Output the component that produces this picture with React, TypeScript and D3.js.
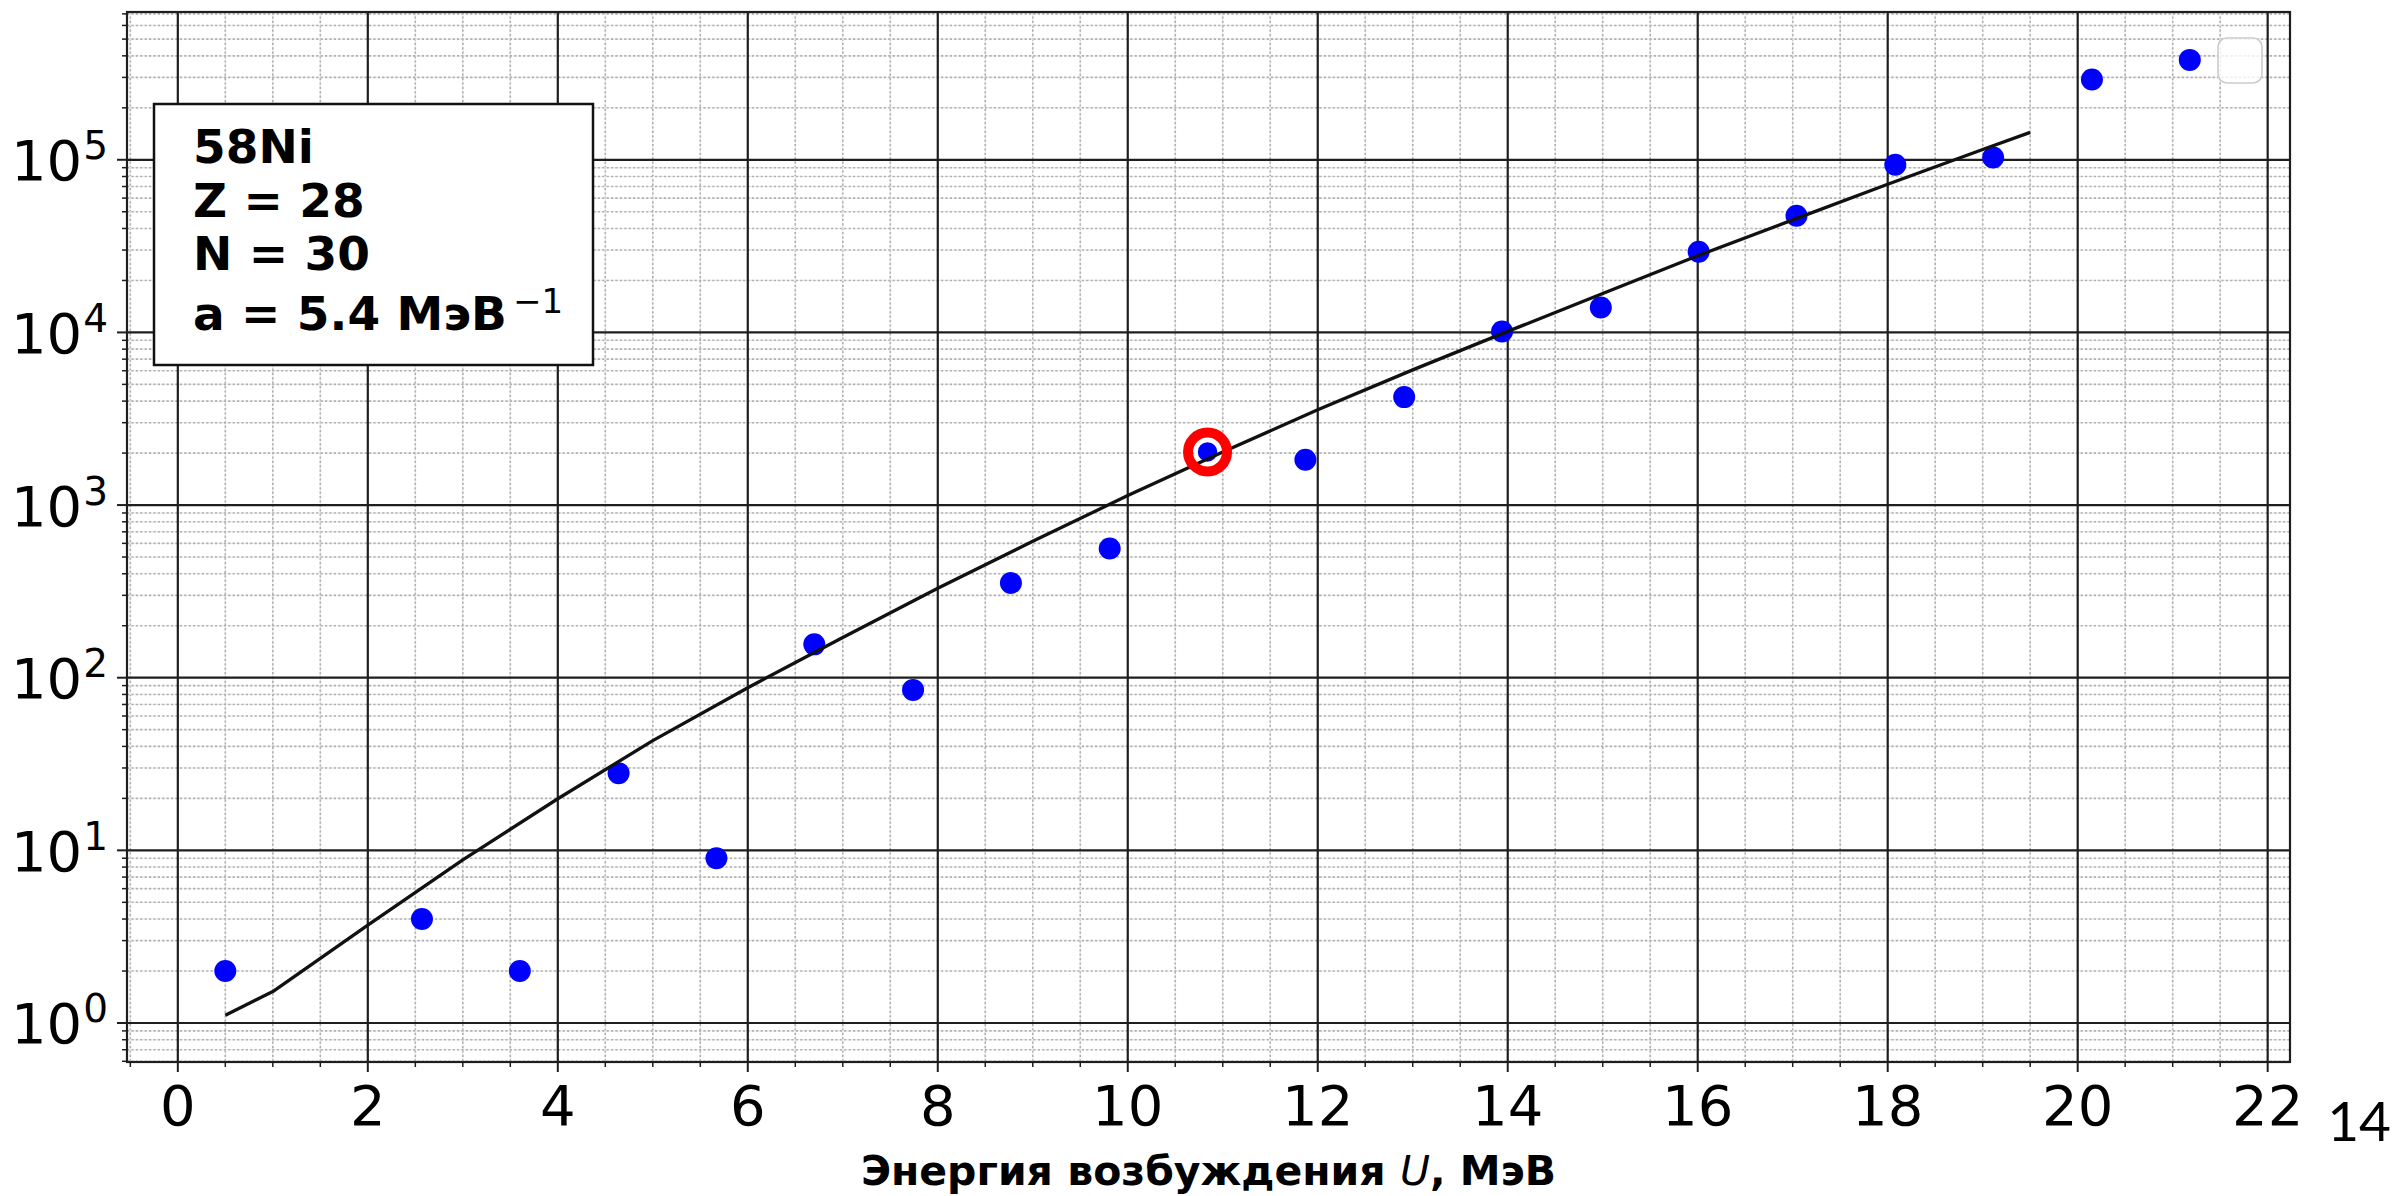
import React from 'react';
import * as d3 from 'd3';

// Observed level counts per excitation-energy bin (58Ni)
const energies = [0.5, 2.57, 3.6, 4.64, 5.67, 6.7, 7.74, 8.77, 9.81, 10.84, 11.87, 12.91, 13.94, 14.98, 16.01, 17.04, 18.08, 19.11, 20.15, 21.18];
const levelCounts = [2, 4, 2, 28, 9, 156, 85, 354, 560, 2030, 1830, 4220, 10130, 13940, 29300, 47400, 93600, 103200, 292000, 379000];

// Fermi-gas model curve
const modelEnergies = [0.5, 1, 2, 3, 4, 5, 6, 7, 8, 9, 10, 11, 12, 13, 14, 15, 16, 17, 18, 19, 19.5];
const modelDensity = [1.11, 1.52, 3.69, 8.81, 19.9, 43.2, 87.5, 171, 330, 617, 1135, 2028, 3565, 6067, 10140, 16790, 27800, 44870, 72110, 114800, 144200];

const xTickValues = [0, 2, 4, 6, 8, 10, 12, 14, 16, 18, 20, 22];
const yTickExponents = [0, 1, 2, 3, 4, 5];
const highlightIndex = 9;

const infoLines = ['58Ni', 'Z = 28', 'N = 30'];
const infoLast = 'a = 5.4 МэВ';
const infoLastSup = '−1';
const xLabelParts = ['Энергия возбуждения ', 'U', ', МэВ'];
const pageNumber = '14';

const W = 2397;
const H = 1196;
const plot = { left: 127, right: 2290, top: 12, bottom: 1062 };
const FONT = 'DejaVu Sans';

export default function App() {
  const x = d3.scaleLinear().domain([-0.535, 22.235]).range([plot.left, plot.right]);
  const y = d3.scaleLog().domain([Math.pow(10, -0.226), Math.pow(10, 5.856)]).range([plot.bottom, plot.top]);

  const [x0, x1] = x.domain();
  const [y0, y1] = y.domain();

  const xMinor = d3.range(-0.5, 22.5, 0.5).filter((v) => v % 2 !== 0 && v >= x0 && v <= x1);
  const yMinor: number[] = [];
  for (let k = -1; k <= 5; k++) {
    for (let m = 2; m <= 9; m++) {
      const v = m * Math.pow(10, k);
      if (v >= y0 && v <= y1) yMinor.push(v);
    }
  }
  const yMajor = yTickExponents.map((e) => Math.pow(10, e));

  const line = d3
    .line<number>()
    .x((_, i) => x(modelEnergies[i]))
    .y((d) => y(d));

  const minorStyle = { stroke: '#b0b0b0', strokeWidth: 1.6, strokeDasharray: '2.2 2.2' };
  const minorUnder = { stroke: '#ececec', strokeWidth: 1.2 };
  const majorStyle = { stroke: '#1e1e1e', strokeWidth: 2.2 };

  return (
    <svg
      width={W}
      height={H}
      viewBox={`0 0 ${W} ${H}`}
      style={{ position: 'absolute', left: 0, top: 0, background: '#fff' }}
      fontFamily={FONT}
    >
      <rect x={0} y={0} width={W} height={H} fill="#fff" />
      <defs>
        <clipPath id="plot-clip">
          <rect x={plot.left} y={plot.top} width={plot.right - plot.left} height={plot.bottom - plot.top} />
        </clipPath>
      </defs>

      {/* minor grid */}
      <g>
        {xMinor.map((v) => (
          <g key={`xm${v}`}>
            <line x1={x(v)} x2={x(v)} y1={plot.top} y2={plot.bottom} {...minorUnder} />
            <line x1={x(v)} x2={x(v)} y1={plot.top} y2={plot.bottom} {...minorStyle} />
          </g>
        ))}
        {yMinor.map((v) => (
          <g key={`ym${v}`}>
            <line x1={plot.left} x2={plot.right} y1={y(v)} y2={y(v)} {...minorUnder} />
            <line x1={plot.left} x2={plot.right} y1={y(v)} y2={y(v)} {...minorStyle} />
          </g>
        ))}
      </g>

      {/* major grid */}
      <g>
        {xTickValues.map((v) => (
          <line key={`xg${v}`} x1={x(v)} x2={x(v)} y1={plot.top} y2={plot.bottom} {...majorStyle} />
        ))}
        {yMajor.map((v) => (
          <line key={`yg${v}`} x1={plot.left} x2={plot.right} y1={y(v)} y2={y(v)} {...majorStyle} />
        ))}
      </g>

      {/* info box */}
      <g>
        <rect x={154} y={104} width={439} height={261} fill="#fff" stroke="#111" strokeWidth={2.5} />
        {infoLines.map((t, i) => (
          <text key={t} x={193} y={163 + i * 53.5} fontSize={47} fontWeight="bold" fill="#000">
            {t}
          </text>
        ))}
        <text x={193} y={330} fontSize={47} fontWeight="bold" fill="#000">
          {infoLast}
          <tspan fontSize={34} fontWeight="normal" dy={-17} dx={6}>
            {infoLastSup}
          </tspan>
        </text>
      </g>

      {/* empty legend frame */}
      <rect x={2218} y={38} width={44} height={45} rx={9} ry={9} fill="#fff" fillOpacity={0.8} stroke="#cccccc" strokeWidth={1.6} />

      {/* data */}
      <g clipPath="url(#plot-clip)">
        {energies.map((e, i) => (
          <circle
            key={`p${i}`}
            cx={x(e)}
            cy={y(levelCounts[i])}
            r={11}
            fill="#0000ff"
            stroke={i === highlightIndex ? '#fff' : 'none'}
            strokeWidth={i === highlightIndex ? 2.5 : 0}
          />
        ))}
        <path d={line(modelDensity) || ''} fill="none" stroke="#111" strokeWidth={3.3} strokeLinejoin="round" />
        <circle
          cx={x(energies[highlightIndex])}
          cy={y(levelCounts[highlightIndex])}
          r={19.5}
          fill="none"
          stroke="#ff0000"
          strokeWidth={10}
        />
      </g>

      {/* spines */}
      <rect
        x={plot.left}
        y={plot.top}
        width={plot.right - plot.left}
        height={plot.bottom - plot.top}
        fill="none"
        stroke="#1e1e1e"
        strokeWidth={2.2}
      />

      {/* x ticks */}
      <g>
        {xTickValues.map((v) => (
          <g key={`xt${v}`}>
            <line x1={x(v)} x2={x(v)} y1={plot.bottom} y2={plot.bottom + 10} stroke="#1e1e1e" strokeWidth={2} />
            <text x={x(v)} y={1125} fontSize={56} textAnchor="middle" fill="#000">
              {v}
            </text>
          </g>
        ))}
        {xMinor.map((v) => (
          <line key={`xmt${v}`} x1={x(v)} x2={x(v)} y1={plot.bottom} y2={plot.bottom + 5} stroke="#1e1e1e" strokeWidth={1.5} />
        ))}
      </g>

      {/* y ticks */}
      <g>
        {yMajor.map((v, i) => (
          <g key={`yt${v}`}>
            <line x1={plot.left - 10} x2={plot.left} y1={y(v)} y2={y(v)} stroke="#1e1e1e" strokeWidth={2} />
            <text x={108} y={y(v) + 20.5} fontSize={56} textAnchor="end" fill="#000">
              10
              <tspan fontSize={39} dy={-21} dx={1}>
                {yTickExponents[i]}
              </tspan>
            </text>
          </g>
        ))}
        {yMinor.map((v) => (
          <line key={`ymt${v}`} x1={plot.left - 5} x2={plot.left} y1={y(v)} y2={y(v)} stroke="#1e1e1e" strokeWidth={1.5} />
        ))}
      </g>

      {/* x axis label */}
      <text x={(plot.left + plot.right) / 2} y={1185} fontSize={41} fontWeight="bold" textAnchor="middle" fill="#000">
        {xLabelParts[0]}
        <tspan fontStyle="italic" fontWeight="normal">
          {xLabelParts[1]}
        </tspan>
        {xLabelParts[2]}
      </text>

      {/* page number */}
      <text x={2391} y={1141} fontSize={55} fontFamily="Lato" textAnchor="end" fill="#000">
        {pageNumber}
      </text>
    </svg>
  );
}
